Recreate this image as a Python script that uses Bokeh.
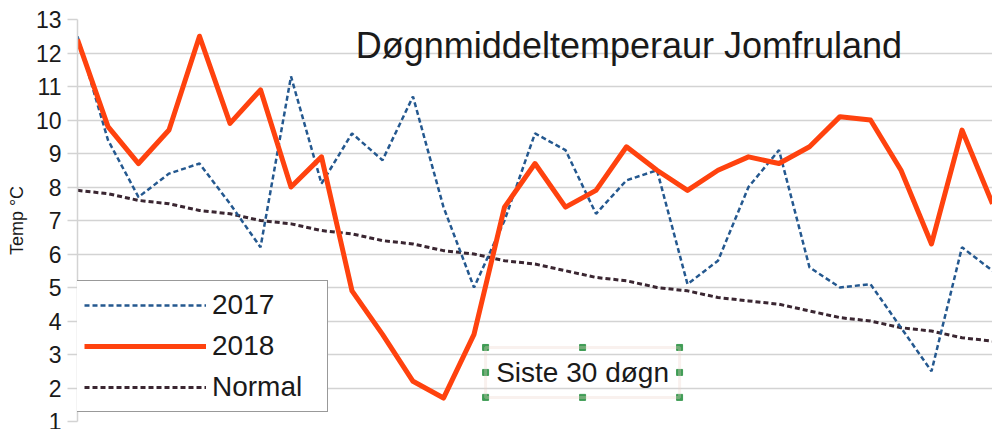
from bokeh.plotting import figure
from bokeh.models import Range1d, FixedTicker, Label, BoxAnnotation, Legend, LegendItem, ColumnDataSource
from bokeh.embed import file_html
from bokeh.resources import INLINE

# ---- data ----
days = list(range(31))
t2017 = [12.5, 9.4, 7.7, 8.4, 8.7, 7.5, 6.2, 11.3, 8.1, 9.6, 8.8, 10.7, 7.4, 5.0, 7.0,
         9.6, 9.1, 7.2, 8.2, 8.5, 5.1, 5.8, 8.0, 9.1, 5.6, 5.0, 5.1, 3.8, 2.5, 6.2, 5.5]
t2018 = [12.4, 9.8, 8.7, 9.7, 12.5, 9.9, 10.9, 8.0, 8.9, 4.9, 3.6, 2.2, 1.7, 3.6, 7.4,
         8.7, 7.4, 7.9, 9.2, 8.5, 7.9, 8.5, 8.9, 8.7, 9.2, 10.1, 10.0, 8.5, 6.3, 9.7, 7.5]
normal = [7.9, 7.8, 7.6, 7.5, 7.3, 7.2, 7.0, 6.9, 6.7, 6.6, 6.4, 6.3, 6.1, 6.0, 5.8,
          5.7, 5.5, 5.3, 5.2, 5.0, 4.9, 4.7, 4.6, 4.5, 4.3, 4.1, 4.0, 3.8, 3.7, 3.5, 3.4]
y_ticks = list(range(1, 14))
series_names = ["2017", "2018", "Normal"]
title_text = "Døgnmiddeltemperaur Jomfruland"
note_text = "Siste 30 døgn"
y_label = "Temp °C"

FONT = "Liberation Sans"
GRID = "#d3d3d3"

src = ColumnDataSource(dict(day=days, t2017=t2017, t2018=t2018, normal=normal))

p = figure(width=992, height=429, output_backend="svg", toolbar_location=None,
           x_range=Range1d(0, 30), y_range=Range1d(1, 13),
           x_axis_location=None,
           min_border_left=77, min_border_right=0, min_border_top=19, min_border_bottom=8)
p.outline_line_color = None
p.background_fill_color = "white"
p.border_fill_color = "white"
p.xgrid.visible = False
p.ygrid.grid_line_color = GRID
p.ygrid.grid_line_width = 1.5

ax = p.yaxis[0]
ax.ticker = FixedTicker(ticks=y_ticks)
ax.minor_tick_line_color = None
ax.major_tick_out = 10
ax.major_tick_in = 0
ax.major_tick_line_color = GRID
ax.major_tick_line_width = 1.5
ax.axis_line_color = GRID
ax.axis_line_width = 1.5
ax.major_label_text_font = FONT
ax.major_label_text_font_size = "23px"
ax.major_label_text_color = "#1a1a1a"
ax.major_label_standoff = 6
ax.axis_label = y_label
ax.axis_label_text_font = FONT
ax.axis_label_text_font_size = "18px"
ax.axis_label_text_font_style = "normal"
ax.axis_label_text_color = "#1a1a1a"
ax.axis_label_standoff = 6

r_norm = p.line("day", "normal", source=src, line_color="#3a2631", line_width=3,
                line_dash="5 3")
r17 = p.line("day", "t2017", source=src, line_color="#24588f", line_width=2.5,
             line_dash="5 3")
r18 = p.line("day", "t2018", source=src, line_color="#ff420e", line_width=5,
             line_join="round")

p.add_layout(Label(x=18.08, y=12.22, text=title_text, text_align="center",
                   text_baseline="alphabetic", text_font=FONT,
                   text_font_size="36px", text_color="#1a1a1a"))

# "Siste 30 døgn" text box with selection handles
bl, br, bb, bt = 13.38, 19.74, 1.72, 3.21
p.add_layout(BoxAnnotation(left=bl, right=br, bottom=bb, top=bt, fill_alpha=0,
                           line_color="#ecd2c8", line_width=3))
bm, bc = (bb + bt) / 2, (bl + br) / 2
p.scatter([bl, bc, br, bl, br, bl, bc, br], [bt, bt, bt, bm, bm, bb, bb, bb],
          marker="square", size=6, color="#3f9c55")
p.add_layout(Label(x=bc, y=bm, text=note_text, text_align="center",
                   text_baseline="middle", text_font=FONT,
                   text_font_size="28px", text_color="#1a1a1a"))

legend = Legend(items=[LegendItem(label=series_names[0], renderers=[r17]),
                       LegendItem(label=series_names[1], renderers=[r18]),
                       LegendItem(label=series_names[2], renderers=[r_norm])],
                location=(-2, 9))
legend.border_line_color = "#333333"
legend.border_line_width = 1.5
legend.background_fill_alpha = 1
legend.padding = 8
legend.spacing = 9
legend.margin = 0
legend.glyph_width = 122
legend.glyph_height = 30
legend.label_height = 30
legend.label_width = 107
legend.label_standoff = 6
legend.label_text_font = FONT
legend.label_text_font_size = "28px"
legend.label_text_color = "#1a1a1a"
p.add_layout(legend)

open("out.html", "w").write(file_html(p, INLINE))
